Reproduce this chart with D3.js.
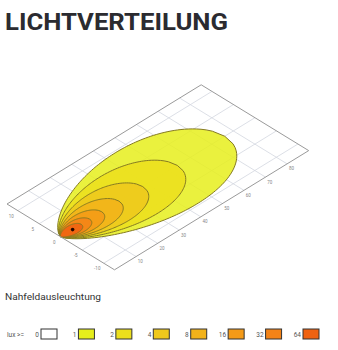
<!DOCTYPE html>
<html>
<head>
<meta charset="utf-8">
<script src="https://cdn.jsdelivr.net/npm/d3@7"></script>
<style>
  html, body { margin: 0; padding: 0; background: #fff; }
  svg { display: block; }
</style>
</head>
<body>
<svg width="338" height="350"></svg>
<script>
// lux levels shown in the legend
const luxLevels = [0, 1, 2, 4, 8, 16, 32, 64];
const luxColors = ["#ffffff", "#e6ee1c", "#ecdf1c", "#efc81c", "#f2b21a", "#f49a18", "#f38318", "#ee6212"];
// isolux contours for 1..64 lux (reach along the beam and half width, metres)
const contourLux = [1, 2, 4, 8, 16, 32, 64];
const contourReach = [76, 54, 38, 27, 19, 13.4, 9.5];
const contourHalfWidth = [9.6, 6.8, 4.8, 3.4, 2.4, 1.7, 1.2];
// brightest point
const hotspot = [5.5, 0];
// axis ticks
const distTicks = [10, 20, 30, 40, 50, 60, 70, 80];
const latTicks = [10, 5, 0, -5, -10];

var svg = d3.select('svg');

svg.append('text')
  .attr('x', 5).attr('y', 30)
  .attr('textLength', 223).attr('lengthAdjust', 'spacingAndGlyphs')
  .style('font-family', 'Roboto, sans-serif')
  .style('font-weight', 700)
  .style('font-size', '23px')
  .style('fill', '#2b2b30')
  .text('LICHTVERTEILUNG');

// plane: distance (x) and lateral offset (y) drawn as a tilted parallelogram
var xs = d3.scaleLinear().domain([0, 90]).range([0, 1]);
var ys = d3.scaleLinear().domain([12.5, -12.5]).range([0, 1]);
var corner = [7, 204];
var vx = [194.2, -119.2];
var vy = [107.5, 65.8];

function proj(d, w) {
  var u = xs(d), v = ys(w);
  return [corner[0] + u * vx[0] + v * vy[0], corner[1] + u * vx[1] + v * vy[1]];
}

var plane = svg.append('g');
var line = d3.line();

// grid
distTicks.forEach(function(d) {
  plane.append('path')
    .attr('d', line([proj(d, 12.5), proj(d, -12.5)]))
    .attr('stroke', '#d3d7e0').attr('stroke-width', 0.8).attr('fill', 'none');
});
latTicks.forEach(function(w) {
  plane.append('path')
    .attr('d', line([proj(0, w), proj(90, w)]))
    .attr('stroke', '#d3d7e0').attr('stroke-width', 0.8).attr('fill', 'none');
});

// contours, largest first
function contourPath(reach, half) {
  var pts = [];
  var n = 80;
  for (var i = 0; i <= n; i++) {
    var t = i / n;
    pts.push(proj(reach * t, half * Math.pow(t, 0.7) * Math.pow(1 - t, 0.5) / 0.4425));
  }
  for (var j = n; j >= 0; j--) {
    var t2 = j / n;
    pts.push(proj(reach * t2, -half * Math.pow(t2, 0.7) * Math.pow(1 - t2, 0.5) / 0.4425));
  }
  return d3.line().curve(d3.curveLinearClosed)(pts);
}

plane.selectAll('path.iso')
  .data(contourLux)
  .enter()
  .append('path')
  .attr('class', 'iso')
  .attr('d', function(l, i) { return contourPath(contourReach[i], contourHalfWidth[i]); })
  .attr('fill', function(l) { return luxColors[luxLevels.indexOf(l)]; })
  .attr('fill-opacity', 0.85)
  .attr('stroke', '#857a22')
  .attr('stroke-width', 1);

var hp = proj(hotspot[0], hotspot[1]);
plane.append('circle')
  .attr('cx', hp[0]).attr('cy', hp[1]).attr('r', 1.8)
  .attr('fill', '#220600');

// plane border
plane.append('path')
  .attr('d', line([proj(0, 12.5), proj(90, 12.5), proj(90, -12.5), proj(0, -12.5)]) + 'Z')
  .attr('stroke', '#9a9a9a').attr('stroke-width', 1).attr('fill', 'none');

// tick labels
plane.selectAll('text.lat')
  .data(latTicks)
  .enter()
  .append('text')
  .attr('class', 'lat')
  .attr('x', function(w) { return proj(-3, w)[0]; })
  .attr('y', function(w) { return proj(-3, w)[1] + 3; })
  .attr('text-anchor', 'middle')
  .style('font-family', 'Roboto, sans-serif')
  .style('font-size', '4.5px')
  .style('fill', '#888')
  .text(function(w) { return w; });

plane.selectAll('text.dist')
  .data(distTicks)
  .enter()
  .append('text')
  .attr('class', 'dist')
  .attr('x', function(d) { return proj(d, -13.5)[0]; })
  .attr('y', function(d) { return proj(d, -13.5)[1] + 4; })
  .attr('text-anchor', 'middle')
  .style('font-family', 'Roboto, sans-serif')
  .style('font-size', '4.5px')
  .style('fill', '#888')
  .text(function(d) { return d; });

// caption
svg.append('text')
  .attr('x', 5).attr('y', 300)
  .attr('textLength', 96).attr('lengthAdjust', 'spacingAndGlyphs')
  .style('font-family', 'Roboto, sans-serif')
  .style('font-size', '9.5px')
  .style('fill', '#333')
  .text('Nahfeldausleuchtung');

// legend
var lx = d3.scaleLinear().domain([0, luxLevels.length - 1]).range([41, 303]);
var legend = svg.append('g');
legend.append('text')
  .attr('x', 7).attr('y', 337)
  .style('font-family', 'Roboto, sans-serif')
  .style('font-size', '6.5px')
  .style('fill', '#555')
  .text('lux >=');

var items = legend.selectAll('g.item')
  .data(luxLevels)
  .enter()
  .append('g')
  .attr('class', 'item')
  .attr('transform', function(l, i) { return 'translate(' + lx(i) + ',329)'; });

items.append('rect')
  .attr('x', 0).attr('y', 0).attr('width', 16).attr('height', 10)
  .attr('fill', function(l, i) { return luxColors[i]; })
  .attr('stroke', '#333').attr('stroke-width', 1);

items.append('text')
  .attr('x', -2).attr('y', 8)
  .attr('text-anchor', 'end')
  .style('font-family', 'Roboto, sans-serif')
  .style('font-size', '6.5px')
  .style('fill', '#555')
  .text(function(l) { return l; });
</script>
</body>
</html>
